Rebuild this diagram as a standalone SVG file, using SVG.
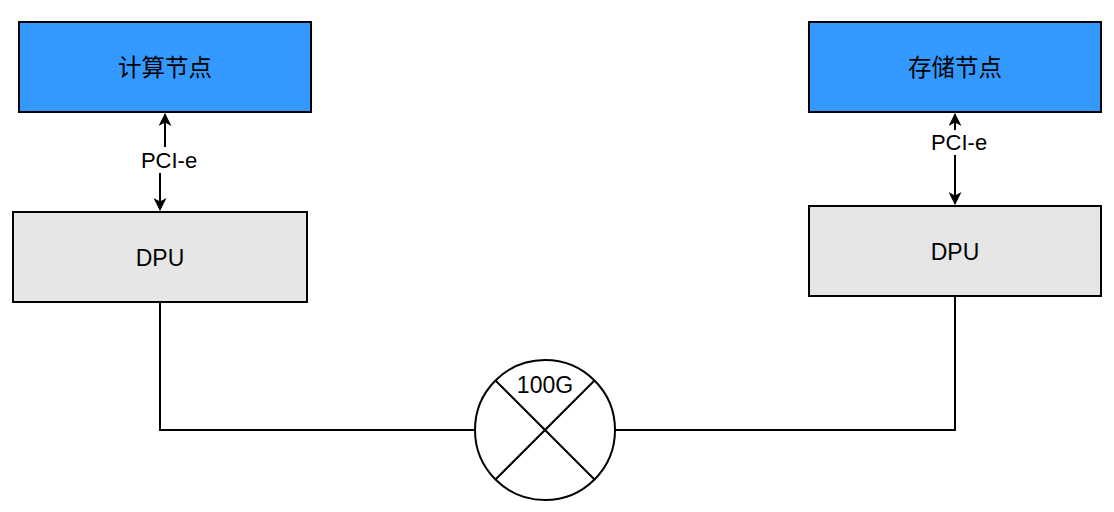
<svg xmlns="http://www.w3.org/2000/svg" width="1114" height="512" viewBox="0 0 1114 512">
<style>
.node{fill:#3399FF;stroke:#000;stroke-width:2}
.dpu{fill:#E6E6E6;stroke:#000;stroke-width:2}
.t{font-family:"Liberation Sans",Arial,"Noto Sans CJK SC",sans-serif;font-size:23px;fill:#000;text-anchor:middle;dominant-baseline:central}
.cjk{font-size:23.5px}
.lbl{font-size:22px}
.line{fill:none;stroke:#000;stroke-width:2}
.arr{fill:none;stroke:#000;stroke-width:2;marker-end:url(#ah)}
</style>
<defs>
<marker id="ah" viewBox="0 0 13 13" refX="12" refY="6.5" markerWidth="13" markerHeight="13" markerUnits="userSpaceOnUse" orient="auto">
<path d="M0,0 L13,6.5 L0,13 L3.5,6.5 Z" fill="#000"/>
</marker>
</defs>
<rect width="1114" height="512" fill="#fff"/>
<g id="compute">
<rect class="node" x="19" y="22" width="292" height="90"/>
<text class="t cjk" x="165" y="68">计算节点</text>
</g>
<g id="storage">
<rect class="node" x="809" y="22" width="292" height="90"/>
<text class="t cjk" x="955" y="68">存储节点</text>
</g>
<g id="dpu-left">
<rect class="dpu" x="13" y="212" width="294" height="90"/>
<text class="t" x="160" y="258">DPU</text>
</g>
<g id="dpu-right">
<rect class="dpu" x="809" y="206" width="292" height="90"/>
<text class="t" x="955" y="252">DPU</text>
</g>
<g id="switch">
<circle cx="545" cy="430" r="70" fill="#fff" stroke="#000" stroke-width="2"/>
<path class="line" d="M495.5,380.5 L594.5,479.5 M594.5,380.5 L495.5,479.5"/>
<text class="t" x="545" y="385">100G</text>
</g>
<g id="connectors">
<path class="arr" d="M165,147 L165,114"/>
<path class="arr" d="M160,173 L160,210"/>
<text class="t lbl" x="169" y="160">PCI-e</text>
<path class="arr" d="M955,130 L955,114"/>
<path class="arr" d="M955,155 L955,204"/>
<text class="t lbl" x="959" y="142">PCI-e</text>
<path class="line" d="M160,302 L160,430 L475,430"/>
<path class="line" d="M955,296 L955,430 L615,430"/>
</g>
</svg>
